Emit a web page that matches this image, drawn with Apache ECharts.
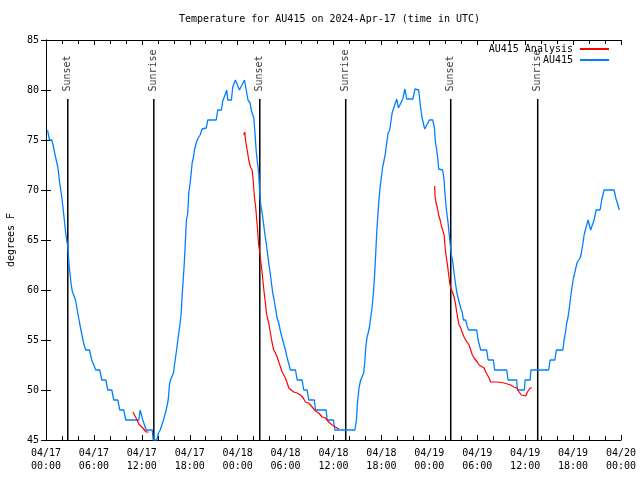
<!DOCTYPE html>
<html>
<head>
<meta charset="utf-8">
<script src="https://cdn.jsdelivr.net/npm/echarts@6/dist/echarts.min.js"></script>
<style>html,body{margin:0;padding:0;background:#fff}#c{width:640px;height:480px}</style>
</head>
<body>
<div id="c"></div>
<script>
// time in hours since 2024-04-17 00:00 UTC, temperature in degrees F
const au415 = [
[0.19,76],[0.44,75],[0.73,75],[0.94,74.3],[1.19,73.3],[1.48,72.3],[1.73,70.6],[1.98,69.3],[2.23,67.5],[2.48,65.6],
[2.73,64.3],[2.90,62.4],[3.15,60.6],[3.28,59.9],[3.44,59.7],[3.69,59],[3.98,57.7],[4.23,56.6],[4.48,55.6],[4.73,54.6],
[4.98,54],[5.45,54],[5.73,53],[5.98,53],[6.23,52],[6.73,52],[6.99,51],[7.49,51],[7.74,50],[8.24,50],
[8.49,49],[8.99,49],[9.24,48],[9.74,48],[9.99,47],[11.62,47],[11.79,48],[11.92,48],[12.12,47],[12.54,46],
[13.30,46],[13.42,45],[13.87,45],[14.08,45.7],[14.30,46],[14.55,46.2],[14.71,47],[15.05,48],[15.30,49],[15.46,50.5],
[15.59,51],[15.77,51.2],[15.96,51.7],[16.12,52.7],[16.30,53.7],[16.46,54.7],[16.62,55.7],[16.80,56.7],[16.93,57.7],[17.05,59.5],
[17.18,61],[17.34,63],[17.46,65],[17.59,67],[17.75,67.7],[17.88,69.7],[18.05,70.7],[18.18,71.7],[18.30,72.7],[18.47,73.3],
[18.59,74],[18.80,74.7],[19.05,75.2],[19.30,75.5],[19.55,76.1],[20.06,76.2],[20.26,77],[21.31,77],[21.51,78],[21.97,78],
[22.13,78.9],[22.47,79.6],[22.63,80],[22.76,79],[23.22,79],[23.38,80.3],[23.72,81],[23.93,81],[24.22,80],[24.47,80],
[24.85,81],[25.06,81],[25.29,79],[25.56,78.7],[25.69,78],[25.92,78],[26.02,77.2],[26.14,76],[26.31,74],[26.48,72.7],
[26.64,71.7],[26.76,69.7],[26.89,68.5],[27.07,67.7],[27.23,66.7],[27.39,65.7],[27.57,64.7],[27.73,63.7],[27.89,62.7],[28.07,61.7],
[28.23,60.7],[28.39,59.7],[28.57,59],[28.73,58.2],[28.94,57.2],[29.14,56.7],[29.32,56],[29.57,55.2],[29.82,55],[29.98,54],
[30.20,53.2],[30.40,53],[30.61,52],[31.24,52],[31.45,51],[32.07,51],[32.27,50],[32.70,50],[32.90,49],[33.61,49],
[33.74,48],[35.08,48],[35.20,47],[35.99,47],[36.18,46],[38.68,46],[38.87,47],[39.00,48.7],[39.21,50.3],[39.41,51],
[39.62,51],[39.78,51.7],[39.91,52.7],[40.04,54.3],[40.21,55.3],[40.34,55.7],[40.50,56.3],[40.66,57.3],[40.84,58.3],[41.00,59.7],
[41.16,61.7],[41.29,63.7],[41.41,65.7],[41.54,67.3],[41.66,68.7],[41.84,70.3],[42.00,71.3],[42.16,72.3],[42.34,73],[42.50,73.7],
[42.66,74.7],[42.84,75.7],[43.04,76],[43.16,76.7],[43.34,77.7],[43.50,78.1],[43.75,78.2],[43.92,79.1],[44.13,78.2],[44.38,78.2],
[44.67,79.1],[44.94,80.1],[45.16,79.1],[45.94,79.1],[46.20,80.1],[46.67,80],[46.84,78.7],[47.07,77.3],[47.42,76.1],[47.67,76.2],
[48.01,77],[48.42,77],[48.63,76.3],[48.76,74.8],[48.92,74],[49.05,73.2],[49.17,72.1],[49.67,72],[49.85,71],[49.97,69.5],
[50.10,68.3],[50.22,67.5],[50.35,66.7],[50.47,65.7],[50.60,64.7],[50.76,63.5],[50.93,62.8],[51.10,61.7],[51.26,60.7],[51.43,59.8],
[51.60,59.2],[51.80,59],[51.93,58.2],[52.14,57.7],[52.27,57],[52.55,57],[52.77,56.3],[52.93,56],[53.93,56],[54.11,55],
[54.43,54],[55.18,54],[55.36,53],[56.02,53],[56.18,52],[57.69,52],[57.86,51],[58.94,51],[59.03,50],[59.90,50],
[59.99,51],[60.62,51],[60.72,52],[62.94,52],[63.12,53],[63.72,53],[63.91,54],[64.72,54],[64.87,55],[65.04,55.7],
[65.20,56.7],[65.37,57.3],[65.54,58.3],[65.70,59.3],[65.87,60.3],[66.04,61.2],[66.20,61.7],[66.37,62.3],[66.54,62.8],[66.70,63],
[66.88,63.2],[67.04,63.7],[67.20,64.5],[67.38,65.5],[67.54,66],[67.70,66.2],[67.88,67],[68.04,66.5],[68.20,66],[68.45,66],
[68.63,67],[68.88,68],[69.38,68],[69.58,69],[69.88,70],[71.13,70],[71.38,69.1],[71.58,68.6],[71.79,68]
];

const analysisDay1 = [
[10.87,47.8],[11.29,47.2],[11.62,46.6],[12.12,46.2],[12.54,45.8],[12.87,45.8]
];

const analysisDay2 = [
[24.76,75.5],[24.89,75.8],[24.98,75],[25.19,74],[25.39,73],[25.60,72.3],[25.81,72],[25.94,71],[26.06,69.7],[26.14,69],
[26.23,68.5],[26.31,67.8],[26.39,67],[26.48,66.2],[26.56,65.2],[26.64,64.5],[26.73,64],[26.89,62.9],[27.07,61.7],[27.19,60.7],
[27.32,59.7],[27.48,58.7],[27.60,57.7],[27.73,57.2],[27.89,56.7],[28.10,55.7],[28.32,54.7],[28.52,54],[28.73,53.7],[28.94,53.3],
[29.14,52.8],[29.36,52.3],[29.57,51.8],[29.77,51.7],[29.98,51.2],[30.20,50.7],[30.40,50.2],[30.61,50],[31.02,49.8],[31.45,49.7],
[31.86,49.5],[32.20,49.2],[32.49,48.8],[32.90,48.7],[33.33,48.3],[33.74,47.9],[34.15,47.7],[34.58,47.3],[34.99,47.2],[35.40,46.8],
[35.83,46.5],[36.24,46.3],[36.66,46.1]
];

const analysisDay3 = [
[48.67,70.4],[48.72,69.3],[48.85,68.7],[49.01,68.2],[49.17,67.5],[49.35,67],[49.51,66.4],[49.67,66],[49.85,65.5],[49.93,64.7],
[50.05,63.7],[50.18,63],[50.30,62.3],[50.43,61.5],[50.55,60.7],[50.68,60.2],[50.89,59.8],[51.10,59.3],[51.26,58.7],[51.39,58],
[51.55,57.2],[51.73,56.5],[51.93,56.2],[52.14,55.7],[52.35,55.3],[52.55,55],[52.77,54.8],[52.98,54.5],[53.18,54],[53.39,53.5],
[53.60,53.2],[53.81,53.1],[54.02,52.8],[54.23,52.5],[54.43,52.3],[54.86,52.2],[55.06,51.8],[55.27,51.5],[55.48,51.2],[55.68,50.8],
[56.52,50.8],[57.36,50.7],[58.19,50.5],[58.61,50.3],[58.94,50.2],[59.24,49.8],[59.53,49.5],[59.78,49.3],[60.07,49.4],[60.28,49.8],
[60.62,50.2],[60.86,50.2]
];

const sunTimes = [2.73, 13.50, 26.77, 37.53, 50.68, 61.57];
const sunNames = ['Sunset', 'Sunrise', 'Sunset', 'Sunrise', 'Sunset', 'Sunrise'];
const sunLineTop = 79.1;

const xTickLabels = ['04/17\n00:00','04/17\n06:00','04/17\n12:00','04/17\n18:00','04/18\n00:00','04/18\n06:00',
  '04/18\n12:00','04/18\n18:00','04/19\n00:00','04/19\n06:00','04/19\n12:00','04/19\n18:00','04/20\n00:00'];

const FONT = 'DejaVu Sans Mono';
const BLUE = '#0080ff';
const RED = '#ff0000';

const chart = echarts.init(document.getElementById('c'), null, {renderer: 'canvas'});

const axisLineStyle = {color: '#000', width: 1};
const series = [];
sunTimes.forEach((t, i) => {
  series.push({
    type: 'line', xAxisIndex: 0, yAxisIndex: 0, symbol: 'none', silent: true,
    data: [[t, 45], [t, sunLineTop]],
    lineStyle: {color: '#000', width: 1.5}, z: 2
  });
});
series.push({
  type: 'scatter', xAxisIndex: 0, yAxisIndex: 0, silent: true, symbolSize: 1,
  itemStyle: {color: 'transparent'},
  data: sunTimes.map((t, i) => [t, sunLineTop, sunNames[i]]),
  label: {
    show: true, position: 'top', distance: 7, rotate: 90, align: 'left', verticalAlign: 'middle',
    formatter: p => p.value[2], color: '#000', fontFamily: FONT, fontSize: 10
  }, z: 3
});
series.push({
  name: 'AU415', type: 'line', symbol: 'none', data: au415,
  lineStyle: {color: BLUE, width: 1.3}, itemStyle: {color: BLUE}, z: 4
});
[analysisDay1, analysisDay2, analysisDay3].forEach(d => {
  series.push({
    name: 'AU415 Analysis', type: 'line', symbol: 'none', data: d,
    lineStyle: {color: RED, width: 1.2}, itemStyle: {color: RED}, z: 5
  });
});

chart.setOption({
  animation: false,
  backgroundColor: '#fff',
  title: {
    text: 'Temperature for AU415 on 2024-Apr-17 (time in UTC)',
    left: 179, top: 14, padding: 0,
    textStyle: {fontFamily: FONT, fontSize: 10, fontWeight: 'normal', color: '#000'}
  },
  legend: {
    data: ['AU415 Analysis', 'AU415'],
    orient: 'vertical', align: 'right', right: 30, top: 44, padding: 0,
    itemWidth: 29, itemHeight: 12, itemGap: 1,
    itemStyle: {opacity: 0},
    textStyle: {fontFamily: FONT, fontSize: 10, color: '#000', padding: [0, 2, 0, 0]},
    selectedMode: false
  },
  grid: {left: 46, top: 40, width: 575, height: 400, containLabel: false, outerBoundsMode: 'none'},
  xAxis: [{
    type: 'value', min: 0, max: 72, interval: 6, position: 'bottom',
    axisLine: {show: true, lineStyle: axisLineStyle},
    axisTick: {show: true, inside: true, length: 5, lineStyle: axisLineStyle},
    minorTick: {show: true, splitNumber: 3, length: 4, lineStyle: axisLineStyle},
    splitLine: {show: false},
    axisLabel: {
      show: true, margin: 7, color: '#000', fontFamily: FONT, fontSize: 10, lineHeight: 13,
      formatter: v => xTickLabels[Math.round(v / 6)]
    }
  }, {
    type: 'value', min: 0, max: 72, interval: 6, position: 'top',
    axisLine: {show: true, lineStyle: axisLineStyle},
    axisTick: {show: true, inside: true, length: 5, lineStyle: axisLineStyle},
    minorTick: {show: true, splitNumber: 3, length: 4, lineStyle: axisLineStyle},
    splitLine: {show: false}, axisLabel: {show: false}
  }],
  yAxis: [{
    type: 'value', min: 45, max: 85, interval: 5, position: 'left',
    name: 'degrees F', nameLocation: 'middle', nameGap: 30,
    nameTextStyle: {fontFamily: FONT, fontSize: 10, color: '#000'},
    axisLine: {show: true, lineStyle: axisLineStyle},
    axisTick: {show: true, inside: true, length: 5, lineStyle: axisLineStyle},
    splitLine: {show: false},
    axisLabel: {show: true, margin: 7, color: '#000', fontFamily: FONT, fontSize: 10}
  }, {
    type: 'value', min: 45, max: 85, interval: 5, position: 'right',
    axisLine: {show: true, lineStyle: axisLineStyle},
    axisTick: {show: true, inside: true, length: 5, lineStyle: axisLineStyle},
    splitLine: {show: false}, axisLabel: {show: false}
  }],
  series: series
});
</script>
</body>
</html>
